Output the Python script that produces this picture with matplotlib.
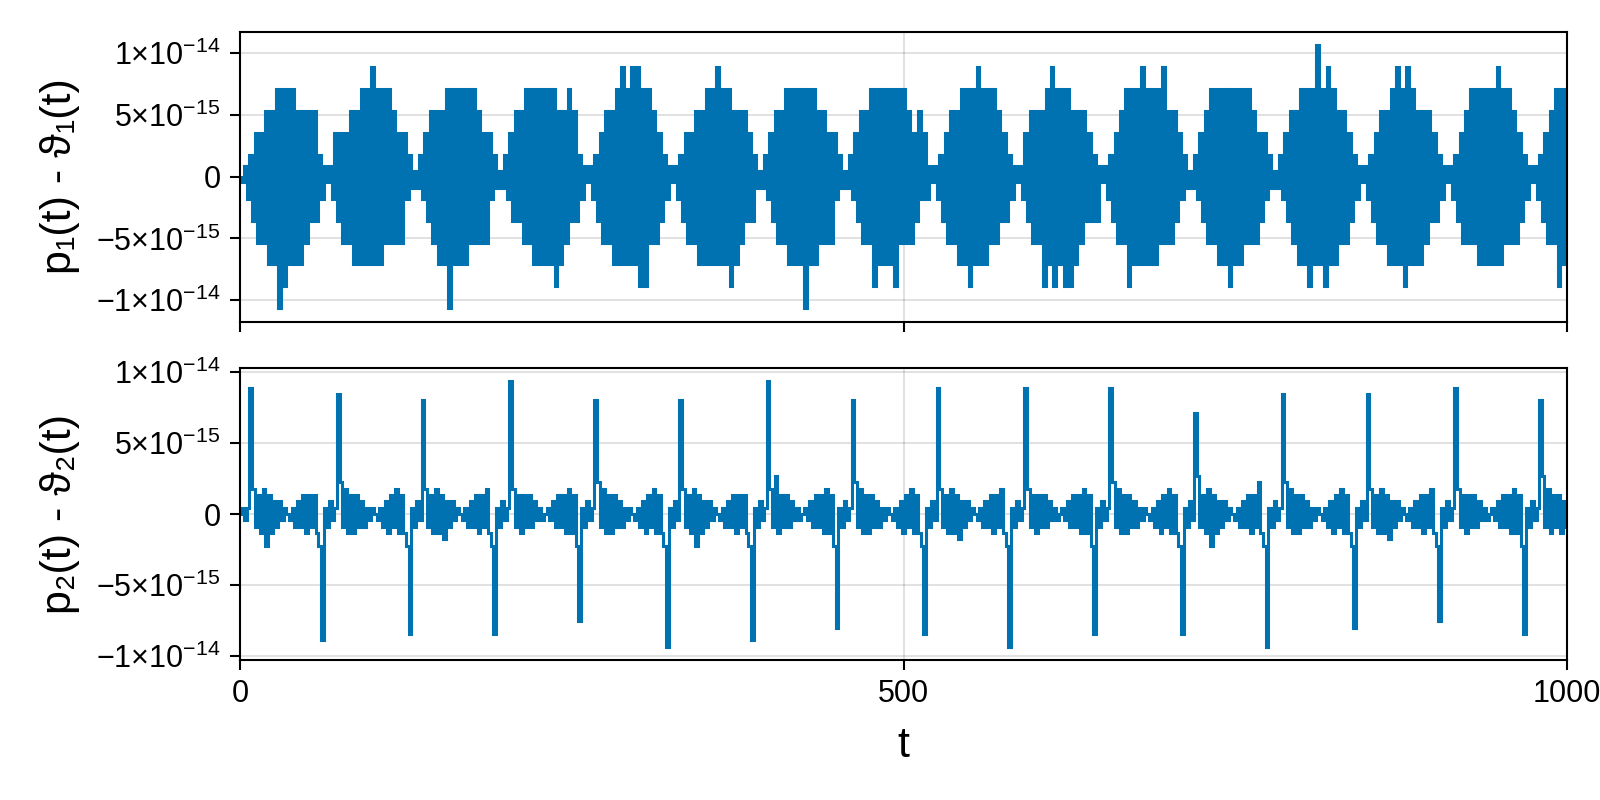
import numpy as np
import matplotlib
matplotlib.use('Agg')
import matplotlib.pyplot as plt

plt.rcParams['font.family'] = ['Liberation Sans', 'DejaVu Sans']
plt.rcParams['mathtext.fontset'] = 'custom'
plt.rcParams['mathtext.rm'] = 'Liberation Sans'
plt.rcParams['mathtext.it'] = 'Liberation Sans:italic'
plt.rcParams['mathtext.bf'] = 'Liberation Sans:bold'

# values in steps of 2*eps (the round-off quantum)
ulp = 4.440892098500626e-16
t_end = 1000

# p1(t) - theta1(t), one sample every 2 time units, one row per beat lobe
p1_diff = [
    0, -1,
    2, -4, 4, -8, 8, -12, 8, -12, 12, -16, 12, -16, 16, -24, 16, -20, 16, -16, 16, -16, 12, -16, 12, -12, 12, -8, 12, -8, 4, -4, 2, -1,
    2, -4, 8, -8, 8, -12, 8, -12, 12, -16, 12, -16, 16, -16, 16, -16, 20, -16, 16, -16, 16, -12, 16, -12, 12, -12, 8, -12, 8, -4, 4, -2, 1,
    -2, 4, -4, 8, -8, 12, -12, 12, -16, 12, -16, 16, -24, 16, -16, 16, -16, 16, -16, 16, -12, 16, -12, 12, -12, 8, -12, 8, -4, 4, -2, 1,
    -2, 4, -4, 8, -8, 12, -8, 12, -12, 16, -12, 16, -16, 16, -16, 16, -16, 16, -16, 16, -20, 12, -16, 12, -12, 16, -8, 12, -8, 4, -4, 2, -1,
    2, -4, 4, -8, 8, -12, 12, -12, 12, -16, 16, -16, 20, -16, 16, -16, 20, -16, 20, -20, 16, -20, 16, -12, 12, -12, 8, -8, 4, -4, 2, -1,
    2, -4, 4, -8, 8, -12, 8, -12, 12, -16, 12, -16, 16, -16, 16, -16, 20, -16, 16, -16, 16, -20, 12, -16, 12, -12, 12, -8, 8, -8, 4, -2, 1,
    -2, 4, -4, 8, -8, 12, -12, 12, -12, 16, -16, 16, -16, 16, -16, 16, -24, 16, -16, 16, -16, 12, -12, 12, -12, 8, -12, 8, -4, 4, -2, 1,
    -2, 4, -4, 8, -8, 12, -12, 12, -12, 16, -20, 16, -16, 16, -16, 16, -16, 16, -20, 16, -12, 16, -12, 12, -12, 8, -8, 12, -4, 8, -4, 2, -1,
    2, -4, 4, -8, 8, -12, 12, -12, 12, -16, 16, -16, 16, -20, 16, -16, 20, -16, 16, -16, 16, -12, 16, -12, 12, -8, 8, -8, 4, -4, 2, -1,
    2, -4, 8, -8, 12, -12, 12, -12, 12, -20, 16, -16, 20, -20, 16, -16, 16, -20, 16, -20, 12, -16, 12, -12, 12, -8, 8, -8, 4, -8, 2, -1,
    2, -4, 4, -8, 8, -12, 12, -12, 16, -20, 16, -16, 16, -16, 20, -16, 16, -16, 16, -16, 16, -12, 20, -12, 12, -12, 12, -8, 8, -4, 4, -2, 1,
    -2, 4, -4, 8, -8, 12, -12, 16, -12, 16, -16, 16, -16, 16, -20, 16, -16, 16, -16, 16, -12, 16, -12, 12, -12, 8, -8, 8, -4, 4, -2, 1,
    -2, 4, -4, 8, -8, 12, -12, 12, -16, 16, -16, 16, -20, 16, -16, 24, -16, 16, -20, 20, -16, 16, -16, 12, -12, 12, -12, 8, -8, 4, -4, 2, -1,
    2, -4, 4, -8, 8, -12, 12, -12, 12, -16, 16, -16, 20, -16, 16, -20, 20, -16, 16, -16, 12, -16, 12, -12, 12, -8, 8, -8, 4, -4, 2, -1,
    2, -4, 4, -8, 8, -12, 12, -12, 16, -12, 16, -16, 16, -16, 16, -16, 16, -16, 20, -16, 16, -12, 16, -12, 12, -12, 8, -8, 4, -4, 2, -1,
    2, -4, 4, -8, 8, -12, 12, -12, 16, -20, 16, -16, 16,
]

# p2(t) - theta2(t), same sampling, one row per spike pair
p2_diff = [
    0, 1, -1, 1,
    20, 4, -2, 3, -3, 4, -5, 3, -3, 2, -2, 2, -1, 1, 0, -1, 1, -2, 2, -2, 3, -3, 3, -2, 3, -3, -5, -20, 1, -2, 2, -1, 1,
    19, 5, -2, 4, -3, 3, -3, 3, -2, 2, -2, 1, -1, 1, 0, -1, 1, -2, 2, -3, 3, -2, 4, -3, 3, -3, -5, -19, 1, -2, 2, -1,
    18, 4, -2, 3, -3, 4, -3, 3, -4, 2, -2, 2, -1, 1, 0, -1, 1, -2, 2, -2, 3, -3, 3, -2, 4, -3, -5, -19, 1, -2, 2, -1, 1,
    21, 4, -2, 3, -3, 3, -2, 3, -2, 2, -1, 1, -1, 0, 1, -1, 2, -2, 3, -2, 3, -3, 4, -3, 3, -5, -17, 1, -2, 2, -1, 1,
    18, 5, -2, 4, -3, 3, -3, 3, -2, 2, -2, 1, -1, 1, 0, -1, 1, -2, 2, -3, 3, -2, 4, -3, 3, -3, -5, -21, 1, -2, 2, -1,
    18, 4, -2, 3, -3, 4, -5, 3, -3, 2, -2, 2, -1, 1, 0, -1, 1, -2, 2, -2, 3, -3, 3, -2, 3, -3, -5, -20, 1, -2, 2, -1, 1,
    21, 4, -2, 6, -3, 3, -2, 3, -2, 2, -1, 1, -1, 0, 1, -1, 2, -2, 3, -2, 3, -3, 4, -3, 3, -5, -18, 1, -2, 2, -1, 1,
    18, 5, -2, 4, -3, 3, -3, 3, -2, 2, -2, 1, -1, 1, 0, -1, 1, -2, 2, -3, 3, -2, 4, -3, 3, -3, -5, -19, 1, -2, 2, -1,
    20, 4, -2, 3, -3, 4, -3, 3, -4, 2, -2, 2, -1, 1, 0, -1, 1, -2, 2, -2, 3, -3, 3, -2, 4, -3, -5, -21, 1, -2, 2, -1, 1,
    20, 4, -2, 3, -3, 3, -2, 3, -2, 2, -1, 1, -1, 0, 1, -1, 2, -2, 3, -2, 3, -3, 4, -3, 3, -5, -19, 1, -2, 2, -1, 1,
    20, 5, -2, 4, -3, 3, -3, 3, -2, 2, -2, 1, -1, 1, 0, -1, 1, -2, 2, -3, 3, -2, 4, -3, 3, -3, -5, -19, 1, -2, 2, -1,
    16, 6, -2, 3, -3, 4, -5, 3, -3, 2, -2, 2, -1, 1, 0, -1, 1, -2, 2, -2, 3, -3, 3, -2, 5, -3, -5, -21, 1, -2, 2, -1, 1,
    19, 5, -2, 4, -3, 3, -3, 3, -2, 2, -2, 1, -1, 1, 0, -1, 1, -2, 2, -3, 3, -2, 4, -3, 3, -3, -5, -18, 1, -2, 2, -1,
    19, 4, -2, 3, -3, 4, -3, 3, -4, 2, -2, 2, -1, 1, 0, -1, 1, -2, 2, -2, 3, -3, 3, -2, 4, -3, -5, -17, 1, -2, 2, -1, 1,
    20, 4, -2, 3, -3, 3, -2, 3, -2, 2, -1, 1, -1, 0, 1, -1, 2, -2, 3, -2, 3, -3, 4, -3, 3, -5, -19, 1, -2, 2, -1, 1,
    18, 6, -2, 4, -3, 3, -2, 3, -3, 2, -2,
]

ylabels = ['p\u2081(t) - \u03d1\u2081(t)', 'p\u2082(t) - \u03d1\u2082(t)']
yticks = [-1e-14, -5e-15, 0, 5e-15, 1e-14]
ytick_labels = [r'$-1{\times}10^{-14}$', r'$-5{\times}10^{-15}$', r'$0$',
                r'$5{\times}10^{-15}$', r'$1{\times}10^{-14}$']
xticks = [0, 500, 1000]
line_color = '#0072B2'

t = np.linspace(0, t_end, len(p1_diff))

fig = plt.figure(figsize=(16, 8), dpi=100)
ax1 = fig.add_axes([0.15, 0.598, 0.8294, 0.3625])
ax2 = fig.add_axes([0.15, 0.175, 0.8294, 0.365])

for ax, vals, lab in [(ax1, p1_diff, ylabels[0]), (ax2, p2_diff, ylabels[1])]:
    ax.plot(t, np.array(vals) * ulp, color=line_color, lw=2.2,
            drawstyle='steps-mid', solid_joinstyle='miter')
    ax.set_xlim(0, t_end)
    ax.margins(y=0.05)
    ax.set_yticks(yticks)
    ax.set_yticklabels(ytick_labels)
    ax.set_xticks(xticks)
    ax.grid(True, color='black', alpha=0.12, lw=1.4)
    ax.set_axisbelow(True)
    for s in ax.spines.values():
        s.set_linewidth(1.5)
    ax.tick_params(direction='out', length=7, width=1.5, labelsize=22, pad=7)
    ax.set_ylabel(lab, fontsize=31)
    ax.yaxis.set_label_coords(-0.1206, 0.5)

ax1.tick_params(axis='x', labelbottom=False)
ax2.set_xlabel('t', fontsize=31, labelpad=12)

fig.savefig('out.png', dpi=100)
